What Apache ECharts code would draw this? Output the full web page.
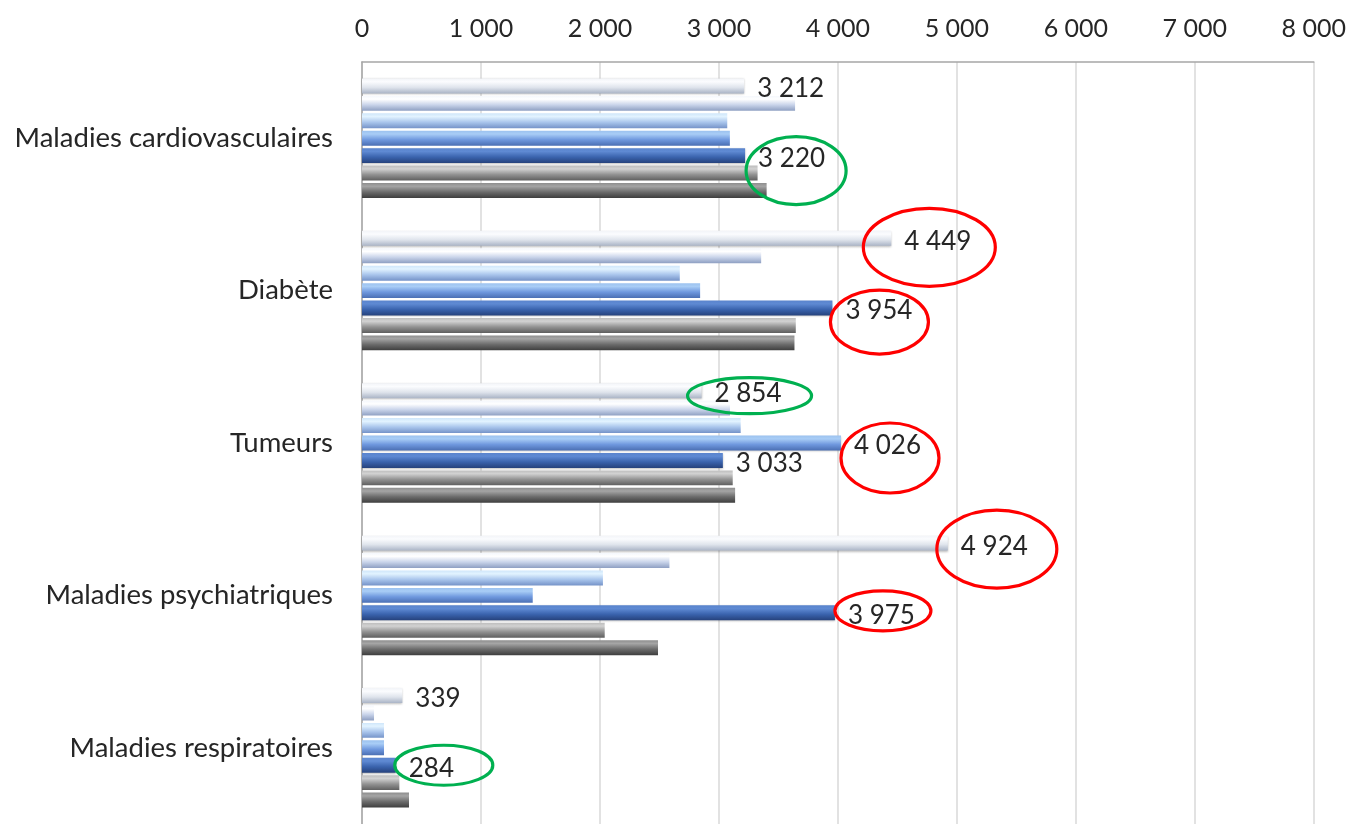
<!DOCTYPE html>
<html>
<head>
<meta charset="utf-8">
<script src="https://cdn.jsdelivr.net/npm/echarts@6/dist/echarts.min.js"></script>
<style>
html,body{margin:0;padding:0;background:#fff;}
#chart{width:1349px;height:824px;}
</style>
</head>
<body>
<div id="chart"></div>
<script>
// ---- Data ----
const categories = ['Maladies cardiovasculaires', 'Diabète', 'Tumeurs', 'Maladies psychiatriques', 'Maladies respiratoires'];
const xTicks = [0, 1000, 2000, 3000, 4000, 5000, 6000, 7000, 8000];
const serie1 = [3212, 4449, 2854, 4924, 339];
const serie2 = [3640, 3355, 3093, 2584, 101];
const serie3 = [3070, 2671, 3183, 2025, 185];
const serie4 = [3092, 2842, 4026, 1435, 185];
const serie5 = [3220, 3954, 3033, 3975, 284];
const serie6 = [3325, 3646, 3116, 2040, 314];
const serie7 = [3401, 3635, 3136, 2488, 395];
// which bars carry a value label
const labelled1 = [true, true, true, true, true];
const labelled4 = [false, false, true, false, false];
const labelled5 = [true, true, true, true, true];

const allSeries = [serie1, serie2, serie3, serie4, serie5, serie6, serie7];
const labelFlags = [labelled1, null, null, labelled4, labelled5, null, null];

// ---- Styles ----
const FONT = 'Lato';
const gradients = [
  ['#f2f4f8', '#fbfcfe', '#dfe4ec', '#aab4c6'],
  ['#f4f7fc', '#ffffff', '#c9d4ea', '#8e9fc2'],
  ['#cfe6fa', '#e2f3ff', '#a9c5ec', '#7593c8'],
  ['#9cc2ef', '#a9cdf6', '#6f98de', '#4b6fb3'],
  ['#5a84cd', '#5f8ad3', '#3a63ad', '#26427c'],
  ['#bdbdbd', '#d2d2d2', '#929292', '#5f5f5f'],
  ['#8e8e8e', '#a5a5a5', '#6c6c6c', '#3e3e3e']
];
// annotation ellipses: [seriesIndex, categoryIndex, colour, dx, dy, rx, ry]
const RED = '#ff0000', GREEN = '#00b050';
const annotations = [
  [4, 0, GREEN, 51, 15, 50, 34],
  [0, 1, RED, 38, 9, 66, 39],
  [4, 1, RED, 47, 14, 49, 32],
  [0, 2, GREEN, 48, 5, 62, 18],
  [3, 2, RED, 49, 15, 49, 35],
  [0, 3, RED, 49, 6, 60, 39],
  [4, 3, RED, 48, -2, 48, 20],
  [4, 4, GREEN, 48, 0, 49, 20]
];

function fmt(v) {
  return String(v).replace(/\B(?=(\d{3})+(?!\d))/g, ' ');
}

function grad(c) {
  return new echarts.graphic.LinearGradient(0, 0, 0, 1, [
    {offset: 0, color: c[0]},
    {offset: 0.22, color: c[1]},
    {offset: 0.6, color: c[2]},
    {offset: 1, color: c[3]}
  ]);
}

const series = allSeries.map(function (vals, si) {
  const flags = labelFlags[si];
  return {
    type: 'bar',
    name: 'Série ' + (si + 1),
    barGap: '16.7%',
    barCategoryGap: '21.6%',
    itemStyle: {
      color: grad(gradients[si]),
      shadowColor: 'rgba(0,0,0,0.25)', shadowBlur: 2, shadowOffsetY: 1
    },
    data: vals.map(function (v, ci) {
      const item = {value: v};
      if (flags && flags[ci]) {
        item.label = {
          show: true, position: 'right', distance: 13, offset: [0, 3],
          formatter: function (p) { return fmt(p.value); },
          fontFamily: FONT, fontSize: 26, color: '#262626'
        };
      }
      return item;
    })
  };
});

const chart = echarts.init(document.getElementById('chart'), null, {renderer: 'canvas'});
chart.setOption({
  animation: false,
  backgroundColor: '#ffffff',
  grid: {left: 362, top: 62, width: 952, height: 769, containLabel: false},
  xAxis: {
    type: 'value',
    position: 'top',
    min: xTicks[0],
    max: xTicks[xTicks.length - 1],
    interval: xTicks[1] - xTicks[0],
    axisLine: {show: true, lineStyle: {color: '#a6a6a6', width: 1.5}},
    axisTick: {show: false},
    splitLine: {show: true, lineStyle: {color: '#d9d9d9', width: 1.5}},
    axisLabel: {
      margin: 21,
      fontFamily: FONT, fontSize: 25, color: '#262626',
      formatter: function (v) { return fmt(v); }
    }
  },
  yAxis: {
    type: 'category',
    inverse: true,
    data: categories,
    axisLine: {show: true, lineStyle: {color: '#a6a6a6', width: 1.5}},
    axisTick: {show: false},
    axisLabel: {margin: 29, fontFamily: FONT, fontSize: 27.5, color: '#262626'}
  },
  series: series
});

function drawAnnotations() {
  const model = chart.getModel();
  const els = annotations.map(function (a) {
    const data = model.getSeriesByIndex(a[0]).getData();
    const lay = data.getItemLayout(a[1]);
    const endX = lay.x + lay.width;
    const cy = lay.y + lay.height / 2;
    return {
      type: 'ellipse',
      shape: {cx: endX + a[3], cy: cy + a[4], rx: a[5], ry: a[6]},
      style: {fill: 'none', stroke: a[2], lineWidth: 3.2},
      z: 100,
      silent: true
    };
  });
  chart.setOption({graphic: els});
}
drawAnnotations();
</script>
</body>
</html>
